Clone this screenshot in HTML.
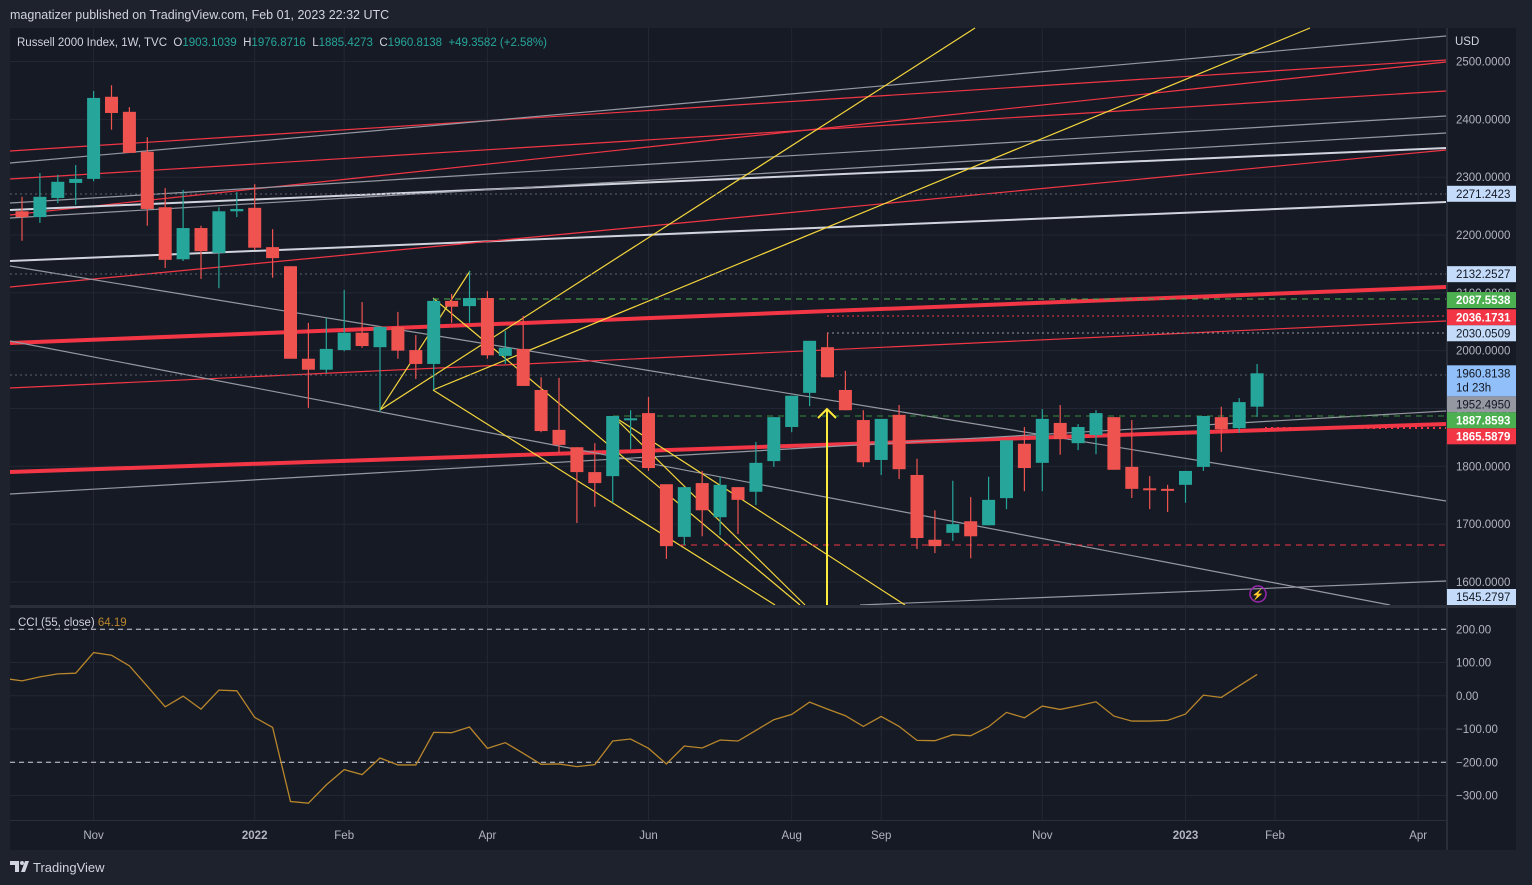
<!DOCTYPE html>
<html><head><meta charset="utf-8"><style>
html,body{margin:0;padding:0;background:#1e222d;width:1532px;height:885px;overflow:hidden;font-family:"Liberation Sans",sans-serif}
svg text{font-family:"Liberation Sans",sans-serif}
</style></head><body>
<svg id="chart" width="1532" height="885" xmlns="http://www.w3.org/2000/svg">
<rect x="0" y="0" width="1532" height="885" fill="#1e222d"/>
<text x="10" y="19" font-size="12.5" fill="#d1d4dc">magnatizer published on TradingView.com, Feb 01, 2023 22:32 UTC</text>
<rect x="10" y="28" width="1512" height="822" fill="#161a25"/>
<g id="grid"></g>
<g id="drawings"></g>
<g id="candles"></g>
<g id="cci"></g>
<rect x="10" y="605" width="1512" height="3" fill="#2a2e39"/>
<rect x="1446" y="28" width="2" height="822" fill="#2a2e39"/>
<rect x="1516" y="28" width="6" height="822" fill="#1e222d"/>
<rect x="10" y="820" width="1436" height="1" fill="#2a2e39"/>
<g id="axes"></g>
<text x="17" y="46" font-size="11.5" fill="#d1d4dc" xml:space="preserve">Russell 2000 Index, 1W, TVC  <tspan fill="#d1d4dc">O</tspan><tspan fill="#26a69a">1903.1039</tspan>  <tspan fill="#d1d4dc">H</tspan><tspan fill="#26a69a">1976.8716</tspan>  <tspan fill="#d1d4dc">L</tspan><tspan fill="#26a69a">1885.4273</tspan>  <tspan fill="#d1d4dc">C</tspan><tspan fill="#26a69a">1960.8138</tspan>  <tspan fill="#26a69a">+49.3582 (+2.58%)</tspan></text>
<text x="18" y="626" font-size="11.5" fill="#d1d4dc">CCI (55, close) <tspan fill="#b8862b">64.19</tspan></text>
<text x="1455" y="45" font-size="11.5" fill="#d1d4dc">USD</text>
<g>
<path d="M10 861 h9 v11 h-4 v-7 h-5 z M21 872 l4 -11 h4 l-4 11 z" fill="#d1d4dc"/>
<circle cx="22" cy="863" r="2" fill="#d1d4dc"/>
<text x="33" y="872" font-size="13" fill="#d1d4dc">TradingView</text>
</g>
<circle cx="1258" cy="594" r="8" fill="none" stroke="#9c27b0" stroke-width="1.5"/>
<text x="1258" y="598" font-size="10" fill="#ba68c8" text-anchor="middle">⚡</text>
</svg>
<script>
const opens=[2241,2231,2264,2290,2297,2439,2413,2344,2248,2158,2212,2169,2241,2247,2179,2146,1986,1967,2001,2031,2006,2041,2001,1977,2086,2077,2091,1991,2003,1932,1863,1833,1790,1783,1880,1892,1769,1678,1771,1712,1764,1756,1809,1868,1927,2006,1932,1880,1811,1889,1785,1673,1685,1705,1698,1745,1839,1806,1875,1840,1854,1885,1799,1762,1761,1768,1799,1885,1866,1903.1039];
const highs=[2266,2307,2304,2321,2449,2459,2421,2369,2281,2278,2216,2248,2274,2288,2210,2146,2048,2056,2105,2084,2042,2067,2027,2090,2098,2138,2103,2034,2060,1954,1953,1833,1840,1887,1897,1920,1769,1764,1792,1782,1764,1842,1885,1922,2017,2031,1965,1897,1882,1906,1813,1724,1775,1747,1782,1845,1868,1899,1906,1873,1897,1885,1880,1783,1768,1792,1887,1903,1918,1976.8716];
const lows=[2190,2221,2255,2252,2293,2382,2342,2216,2143,2155,2124,2108,2231,2174,2126,1986,1901,1961,1999,2005,1894,1986,1951,1932,2048,2048,1986,1977,1939,1859,1823,1702,1730,1737,1830,1792,1640,1664,1679,1681,1683,1733,1799,1859,1904,1954,1897,1799,1785,1778,1657,1650,1671,1641,1698,1726,1757,1757,1820,1828,1821,1794,1745,1726,1721,1737,1792,1825,1858,1885.4273];
const closes=[2231,2266,2292,2297,2437,2411,2342,2245,2157,2212,2172,2241,2245,2178,2160,1986,1967,2003,2031,2008,2041,2000,1977,2086,2076,2091,1992,2005,1939,1861,1837,1790,1771,1887,1883,1797,1662,1764,1724,1768,1742,1806,1885,1922,2017,1954,1897,1807,1882,1795,1676,1662,1700,1679,1742,1845,1797,1882,1847,1868,1892,1794,1761,1759,1759,1792,1887,1864,1911,1960.8138];
const cciValues=[45,57,66,68,130,122,90,29,-33,-1,-40,17,15,-65,-95,-318,-323,-268,-222,-237,-187,-208,-208,-110,-111,-94,-158,-141,-173,-206,-205,-213,-207,-136,-130,-158,-205,-151,-157,-133,-136,-104,-72,-56,-19,-40,-60,-92,-62,-92,-134,-135,-117,-120,-93,-50,-66,-31,-41,-30,-18,-61,-76,-76,-74,-55,2,-5,30,64.19];
const priceTicks=[2500,2400,2300,2200,2100,2000,1900,1800,1700,1600];
const cciTicks=[200,100,0,-100,-200,-300];
const timeLabels=["Nov","2022","Feb","Apr","Jun","Aug","Sep","Nov","2023","Feb","Apr"];
const timeIdx=[4,13,18,26,35,43,48,57,65,70,78];
const tagValues=[2271.2423,2132.2527,2087.5538,2036.1731,2030.0509,1952.4950,1887.8593,1865.5879,1545.2797];
const tagKinds=["light","light","green","red","light","gray","green","red","light"];

const NS="http://www.w3.org/2000/svg";
const X=i=>22+i*17.9;
const PY=p=>61.5+(2500-p)*0.5783;
const CY=v=>695.8-v*0.3325;
function mk(tag,attrs,parent,text){const e=document.createElementNS(NS,tag);for(const k in attrs)e.setAttribute(k,attrs[k]);if(text!==undefined)e.textContent=text;parent.appendChild(e);return e;}
const grid=document.getElementById('grid'),axes=document.getElementById('axes'),cg=document.getElementById('candles'),cci=document.getElementById('cci'),dr=document.getElementById('drawings');

priceTicks.forEach(p=>{
  const l=mk('line',{x1:10,x2:1446,y1:PY(p),y2:PY(p),stroke:'#232734','stroke-width':1},grid);
  
  
  const t=mk('text',{x:1456,y:PY(p)+4,'font-size':11.5,fill:'#b2b5be'},axes,p.toFixed(4));
  
  
});
cciTicks.forEach(v=>{
  const l=mk('line',{x1:10,x2:1446,y1:CY(v),y2:CY(v),stroke:'#232734','stroke-width':1},grid);
  
  
  const t=mk('text',{x:1456,y:CY(v)+4,'font-size':11.5,fill:'#b2b5be'},axes,v.toFixed(2).replace('-','\u2212'));
  
  
});
timeLabels.forEach((s,k)=>{
  const x=X(timeIdx[k]);
  const l=mk('line',{x1:x,x2:x,y1:28,y2:820,stroke:'#232734','stroke-width':1},grid);
  
  
  const t=mk('text',{x:x,y:839,'font-size':11.5,fill:'#b2b5be','text-anchor':'middle','font-weight':(/^\d/.test(s)?'bold':'normal')},axes,s);
  
  
});
[200,-200].forEach(v=>{
  const l=mk('line',{x1:10,x2:1446,y1:CY(v),y2:CY(v),stroke:'#d1d4dc','stroke-width':1,'stroke-dasharray':'5 4'},cci);
  
  
});

const lines=[
 [10,151,1446,60,'#f23645',1.2,''],[10,163,1446,36,'#9598a1',1.2,''],[10,179,1446,91,'#f23645',1.2,''],
 [10,215,1446,62,'#f23645',1.2,''],[10,203,1446,116,'#9598a1',1.2,''],[10,210,1446,148,'#d1d4dc',2,''],
 [10,218,1446,133,'#9598a1',1.2,''],[10,261,1446,202,'#d1d4dc',2,''],[10,287,1446,150,'#f23645',1.2,''],
 [10,266,1446,501,'#9598a1',1.2,''],[10,343,1446,287,'#f23645',4,''],[10,388,1446,321,'#f23645',1.2,''],
 [10,472,1446,424,'#f23645',4,''],[10,341,1390,605,'#9598a1',1.2,''],[10,494,1446,411,'#9598a1',1.2,''],
 [860,605,1446,581,'#9598a1',1.2,''],
 [380,410,975,28,'#f5d63d',1.2,''],[433,390,1310,28,'#f5d63d',1.2,''],[380,410,470,271,'#f5d63d',1.2,''],
 [433,390,775,605,'#f5d63d',1.2,''],[433,298,800,605,'#f5d63d',1.2,''],[613,416,905,605,'#f5d63d',1.2,''],
 [613,416,805,605,'#f5d63d',1.2,''],
 [433,299,1446,299,'#4caf50',1,'6 5'],[613,416,1446,416,'#388e3c',1,'6 5'],[680,545,1446,545,'#f23645',1,'6 5'],
 [1265,428,1446,428,'#f23645',2,'2 4'],[10,194,1446,194,'#5d6170',1,'2 3'],[10,274,1446,274,'#5d6170',1,'2 3'],
 [827,333,1446,333,'#9598a1',1,'2 3'],[10,375,1446,375,'#5d6170',1,'2 3'],[827,316,1446,316,'#f23645',1,'2 3']
];
lines.forEach(a=>{
  const l=mk('line',{x1:a[0],y1:a[1],x2:a[2],y2:a[3],stroke:a[4],'stroke-width':a[5],'stroke-dasharray':a[6]},dr);
  
  
});
const arrow=mk('path',{d:'M827 605 L827 410 M818 418 L827 409 L836 418',stroke:'#ffeb3b','stroke-width':2,fill:'none'},dr);



opens.forEach((o,i)=>{
  const c=closes[i],up=c>=o,col=up?'#26a69a':'#ef5350',x=X(i);
  const w=mk('line',{x1:x,x2:x,y1:PY(highs[i]),y2:PY(lows[i]),stroke:col,'stroke-width':1.2},cg);
  
  
  const top=PY(Math.max(o,c)),h=Math.max(2,Math.abs(PY(o)-PY(c)));
  const b=mk('rect',{x:x-6.5,y:top,width:13,height:h,fill:col},cg);
  
  
});

const pts=cciValues.map((v,i)=>X(i)+','+CY(v)).join(' ');
const pl=mk('polyline',{points:'10,'+CY(50)+' '+pts,fill:'none',stroke:'#b8862b','stroke-width':1.3},cci);



const tagStyle={light:['#c4dcfa','#131722'],green:['#4caf50','#ffffff'],red:['#f23645','#ffffff'],gray:['#9598a1','#131722']};
const lastP=closes[closes.length-1];
const lastTop=PY(lastP)-8,lastBot=lastTop+31;
const items=tagValues.map((v,k)=>({v:v,k:k,top:Math.min(PY(v)-8,589)}));
const above=items.filter(it=>it.top<lastTop).sort((a,b)=>b.top-a.top);
let limit=lastTop;
above.forEach(it=>{ if(it.top+16>limit) it.top=limit-16; limit=it.top; });
const below=items.filter(it=>it.top>=lastTop).sort((a,b)=>a.top-b.top);
limit=lastBot;
below.forEach(it=>{ if(it.top<limit) it.top=limit; limit=it.top+16; });
items.forEach(it=>{
  const s=tagStyle[tagKinds[it.k]];
  const r=mk('rect',{x:1447,y:it.top,width:69,height:16,fill:s[0]},axes);
  
  
  const t=mk('text',{x:1456,y:it.top+12,'font-size':11.5,fill:s[1],'font-weight':(s[1]=='#ffffff'?'bold':'normal')},axes,it.v.toFixed(4));
  
  
});
const lr=mk('rect',{x:1447,y:lastTop,width:69,height:31,fill:'#90bff9'},axes);


const lt=mk('text',{x:1456,y:lastTop+12,'font-size':11.5,fill:'#131722'},axes,lastP.toFixed(4));


const lc=mk('text',{x:1456,y:lastTop+26,'font-size':11.5,fill:'#131722'},axes,'1d 23h');


</script>
</body></html>
